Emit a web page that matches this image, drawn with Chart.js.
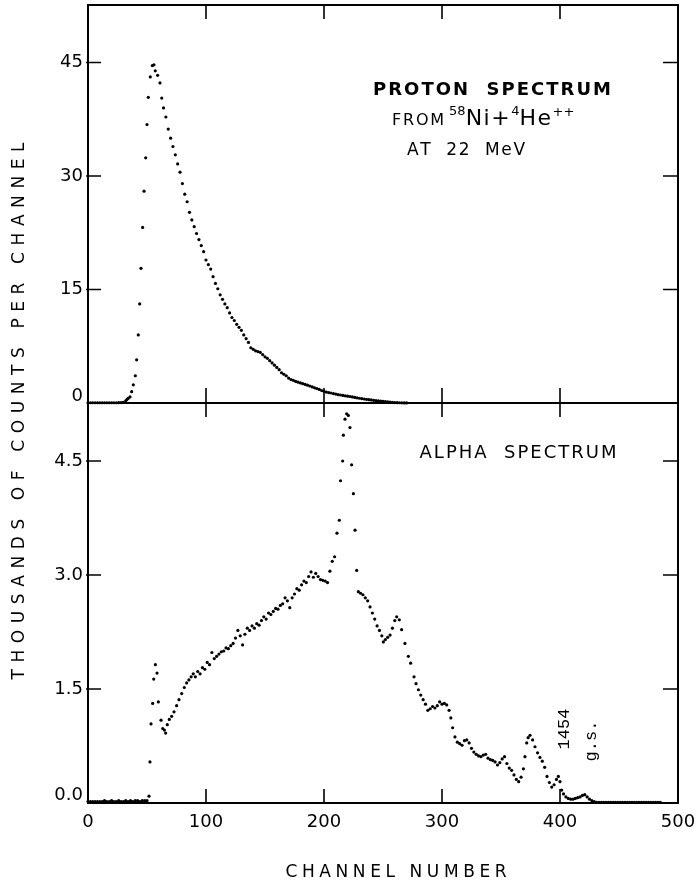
<!DOCTYPE html>
<html>
<head>
<meta charset="utf-8">
<script src="https://cdn.jsdelivr.net/npm/chart.js@4.4.1/dist/chart.umd.min.js"></script>
<style>
  html, body { margin: 0; padding: 0; background: #fff; }
  #contenedor { position: relative; width: 698px; height: 881px; }
</style>
</head>
<body>
<div id="contenedor"><canvas id="espectros"></canvas></div>
<script>
// Espectro de protones (miles de cuentas por canal)
const canalesProton = [
  0, 2, 4, 6, 8, 10, 12, 14, 16, 18, 20, 22, 24, 26, 28, 30, 32, 33, 34,
  35.6, 37, 38.4, 40.1, 41.2, 42.6, 43.8, 44.9, 46.3, 47.5, 48.9, 50, 51.1, 52.8, 54.5, 55.9,
  57, 59, 61, 62.5, 64, 66, 68, 70, 72, 74, 76, 78, 80, 82, 84, 86, 88, 90, 92, 94, 96, 98,
  100, 102, 104, 106, 108, 110, 112, 114, 116, 118, 120, 122, 124, 126, 128, 130, 132, 134,
  136, 138, 140, 142, 144, 146, 148, 150, 152, 154, 156, 158, 160, 162, 164, 166, 168, 170,
  172, 174, 176, 178, 180, 182, 184, 186, 188, 190, 192, 194, 196, 198, 200, 202, 204, 206,
  208, 210, 212, 214, 216, 218, 220, 222, 224, 226, 228, 230, 232, 234, 236, 238, 240, 242,
  244, 246, 248, 250, 252, 254, 256, 258, 260, 262, 264, 266, 268, 270
];
const cuentasProton = [
  0.03, 0.03, 0.03, 0.03, 0.03, 0.03, 0.03, 0.03, 0.03, 0.03, 0.03, 0.03, 0.03, 0.04, 0.05, 0.1, 0.3, 0.45, 0.6,
  0.8, 1.5, 2.4, 3.6, 5.7, 9.0, 13.1, 17.8, 23.2, 28.0, 32.4, 36.8, 40.4, 43.1, 44.6, 44.7,
  43.9, 43.3, 42.3, 40.3, 39.0, 37.8, 36.2, 35.0, 33.9, 32.8, 31.6, 30.5, 29.0, 27.6, 26.6, 25.2, 24.2, 23.3, 22.4, 21.6, 20.8, 20.0,
  18.9, 18.3, 17.7, 16.7, 15.8, 15.1, 14.3, 13.7, 13.1, 12.6, 11.9, 11.3, 10.9, 10.4, 10.0, 9.6, 9.0, 8.5,
  8.0, 7.3, 7.1, 6.9, 6.8, 6.7, 6.4, 6.1, 5.9, 5.6, 5.3, 5.0, 4.7, 4.4, 4.0, 3.8, 3.6, 3.3,
  3.1, 3.0, 2.85, 2.75, 2.65, 2.55, 2.45, 2.35, 2.25, 2.12, 2.0, 1.9, 1.8, 1.65, 1.55, 1.45, 1.38, 1.32,
  1.25, 1.18, 1.1, 1.06, 1.0, 0.95, 0.9, 0.86, 0.8, 0.74, 0.68, 0.63, 0.58, 0.53, 0.48, 0.44, 0.4, 0.36,
  0.31, 0.27, 0.24, 0.21, 0.18, 0.14, 0.11, 0.08, 0.06, 0.04, 0.03, 0.02, 0.01, 0.01
];

// Espectro de alfas (miles de cuentas por canal)
const canalesAlfa = [
  0, 2, 4, 6, 8, 10, 12, 14, 16, 18, 20, 22, 24, 26, 28, 30, 32, 34, 36, 38, 40, 42, 44, 46, 48, 50,
  51.7, 52.5, 53.4, 54.8, 55.7, 57.1, 58.5, 59.6, 61.9, 63.3, 64.7, 65.8, 67.2, 68.9, 70.9, 72.9,
  75.1, 77.1, 79.4, 81.6, 83.6, 85.5, 87.4, 89.2, 91, 93, 95, 97, 99, 101, 103, 105, 107, 109,
  111, 113, 115, 117, 119, 121, 123, 125, 127, 129, 131, 133, 135, 137, 139, 141, 143, 145, 147,
  149, 151, 153, 155, 157, 159, 161, 163, 165, 167, 169, 171, 173, 175, 177, 179, 181, 183, 185,
  187, 189, 191, 193, 195, 197, 199, 201, 203, 205, 207, 209, 211, 213, 214, 215.8, 216.4, 217.8,
  219.2, 220.6, 222, 223.4, 224.9, 226.3, 227.7, 229.1, 231, 233, 235, 237, 239, 241, 243, 245,
  247, 249, 250.3, 252, 254, 256, 258, 260, 261.6, 263.8, 265.8, 268.6, 271.5, 273.4, 276.3, 278,
  280, 282, 284, 286, 288, 290, 292, 294, 296, 298, 300, 302, 304, 306, 307.5, 309, 311, 313,
  315, 317, 319, 321, 323, 325, 327, 329, 331, 333, 335, 337, 339, 341, 343, 345, 347, 349, 351,
  353, 355, 357, 359, 361, 363, 365, 367, 369, 370.3, 371.8, 373, 374.6, 376.8, 378.8, 381, 383,
  385, 387, 389, 391, 393, 395, 397, 398.6, 400, 401.4, 403, 405, 407, 409, 411, 413, 415, 417,
  419, 421, 423, 425, 427, 429, 431, 433, 435, 437, 439, 441, 443, 445, 447, 449, 451, 453, 455,
  457, 459, 461, 463, 465, 467, 469, 471, 473, 475, 477, 479, 481, 483, 485
];
const cuentasAlfa = [
  0.02, 0.02, 0.02, 0.02, 0.02, 0.02, 0.02, 0.03, 0.02, 0.02, 0.03, 0.02, 0.02, 0.03, 0.02, 0.02, 0.03, 0.02, 0.03, 0.02, 0.03, 0.03, 0.02, 0.03, 0.03, 0.03,
  0.09, 0.54, 1.04, 1.31, 1.63, 1.82, 1.71, 1.33, 1.09, 0.98, 0.96, 0.92, 1.03, 1.10, 1.14, 1.20,
  1.28, 1.36, 1.44, 1.52, 1.58, 1.62, 1.66, 1.70, 1.66, 1.73, 1.70, 1.78, 1.76, 1.85, 1.82, 1.98, 1.90, 1.93,
  1.96, 1.99, 2.00, 2.04, 2.03, 2.07, 2.10, 2.17, 2.27, 2.20, 2.08, 2.22, 2.30, 2.27, 2.33, 2.30, 2.36, 2.34, 2.40,
  2.45, 2.42, 2.50, 2.48, 2.52, 2.56, 2.55, 2.60, 2.62, 2.70, 2.66, 2.57, 2.70, 2.75, 2.82, 2.80, 2.87, 2.92, 2.90,
  2.98, 3.04, 2.97, 3.02, 2.98, 2.94, 2.93, 2.92, 2.90, 3.05, 3.18, 3.24, 3.55, 3.72, 4.24, 4.50, 4.84, 5.05,
  5.12, 5.10, 4.94, 4.45, 4.07, 3.59, 3.06, 2.78, 2.76, 2.74, 2.70, 2.66, 2.58, 2.50, 2.42, 2.33,
  2.27, 2.20, 2.12, 2.15, 2.18, 2.21, 2.30, 2.40, 2.45, 2.41, 2.28, 2.10, 1.93, 1.84, 1.66, 1.57,
  1.49, 1.42, 1.36, 1.30, 1.22, 1.24, 1.27, 1.25, 1.28, 1.33, 1.30, 1.31, 1.29, 1.22, 1.12, 0.99, 0.87, 0.80,
  0.78, 0.76, 0.82, 0.83, 0.79, 0.72, 0.67, 0.64, 0.62, 0.61, 0.63, 0.64, 0.59, 0.57, 0.56, 0.54, 0.50, 0.53, 0.58,
  0.61, 0.52, 0.46, 0.43, 0.37, 0.31, 0.28, 0.34, 0.45, 0.61, 0.79, 0.86, 0.89, 0.83, 0.74, 0.66, 0.60,
  0.55, 0.47, 0.35, 0.27, 0.21, 0.24, 0.31, 0.35, 0.28, 0.17, 0.12, 0.08, 0.06, 0.05, 0.05, 0.06, 0.07, 0.08,
  0.10, 0.11, 0.08, 0.05, 0.03, 0.02, 0.01, 0.01, 0.01, 0.01, 0.01, 0.01, 0.01, 0.01, 0.01, 0.01, 0.01, 0.01, 0.01,
  0.01, 0.01, 0.01, 0.01, 0.01, 0.01, 0.01, 0.01, 0.01, 0.01, 0.01, 0.01, 0.01, 0.01, 0.01
];

// Marcas de los ejes
const ticksCanal = [0, 100, 200, 300, 400, 500];
const ticksProton = [0, 15, 30, 45];
const ticksAlfa = [0, 1.5, 3.0, 4.5];
const etiquetasProton = ["0", "15", "30", "45"];
const etiquetasAlfa = ["0.0", "1.5", "3.0", "4.5"];

const FUENTE = '"DejaVu Sans"';

function puntos(canales, cuentas) {
  return canales.map((c, i) => ({ x: c, y: cuentas[i] }));
}

// Escribe texto letra por letra con espaciado extra, centrado en x
function textoEspaciado(ctx, texto, x, y, espacio) {
  const letras = texto.split("");
  const anchos = letras.map(l => ctx.measureText(l).width);
  const total = anchos.reduce((a, b) => a + b, 0) + espacio * (letras.length - 1);
  let pos = x - total / 2;
  ctx.textAlign = "left";
  letras.forEach((l, i) => {
    ctx.fillText(l, pos, y);
    pos += anchos[i] + espacio;
  });
}

// Escribe una secuencia de trozos [texto, tamaño, subida, espacio] uno detrás de otro
function textoCompuesto(ctx, trozos, x, y) {
  let pos = x;
  ctx.textAlign = "left";
  trozos.forEach(([t, tam, subida, espacio]) => {
    ctx.font = tam + "px " + FUENTE;
    for (const l of t) {
      ctx.fillText(l, pos, y - subida);
      pos += ctx.measureText(l).width + (espacio || 0);
    }
  });
}

const marco = {
  id: "marco",
  afterDatasetsDraw(chart) {
    const { ctx, chartArea: area, scales } = chart;
    const x = scales.x, yP = scales.yP, yA = scales.yA;
    const division = yP.getPixelForValue(0);

    ctx.save();
    ctx.strokeStyle = "#000";
    ctx.fillStyle = "#000";
    ctx.lineWidth = 2;
    ctx.strokeRect(area.left, area.top, area.right - area.left, area.bottom - area.top);

    ctx.beginPath();
    ctx.moveTo(area.left, division);
    ctx.lineTo(area.right, division);
    ctx.stroke();

    // marcas del eje de canales: abajo, arriba y en la división
    ctx.lineWidth = 1.6;
    ticksCanal.slice(1, -1).forEach(v => {
      const px = x.getPixelForValue(v);
      ctx.beginPath();
      ctx.moveTo(px, area.bottom); ctx.lineTo(px, area.bottom - 14);
      ctx.moveTo(px, area.top); ctx.lineTo(px, area.top + 14);
      ctx.moveTo(px, division - 15); ctx.lineTo(px, division + 14);
      ctx.stroke();
    });

    // marcas verticales a ambos lados
    const marcasY = (escala, valores) => {
      valores.slice(1).forEach(v => {
        const py = escala.getPixelForValue(v);
        ctx.beginPath();
        ctx.moveTo(area.left - 2, py); ctx.lineTo(area.left + 13, py);
        ctx.moveTo(area.right, py); ctx.lineTo(area.right - 15, py);
        ctx.stroke();
      });
    };
    marcasY(yP, ticksProton);
    marcasY(yA, ticksAlfa);

    // etiquetas de los ejes
    ctx.font = "18px " + FUENTE;
    ctx.textAlign = "right";
    ctx.textBaseline = "middle";
    ticksProton.forEach((v, i) => {
      const py = yP.getPixelForValue(v) - (v === 0 ? 7 : 0);
      ctx.fillText(etiquetasProton[i], area.left - 5, py);
    });
    ticksAlfa.forEach((v, i) => {
      const py = yA.getPixelForValue(v) - (v === 0 ? 8 : 0);
      ctx.fillText(etiquetasAlfa[i], area.left - 5, py);
    });
    ctx.textAlign = "center";
    ticksCanal.forEach(v => {
      ctx.fillText(String(v), x.getPixelForValue(v), area.bottom + 19);
    });

    // títulos de los ejes
    ctx.textBaseline = "alphabetic";
    ctx.font = "17px " + FUENTE;
    textoEspaciado(ctx, "CHANNEL NUMBER", 396, 877, 4.6);
    ctx.save();
    ctx.translate(24, 411);
    ctx.rotate(-Math.PI / 2);
    textoEspaciado(ctx, "THOUSANDS OF COUNTS PER CHANNEL", 0, 0, 6.6);
    ctx.restore();

    // rótulos de cada panel
    ctx.font = "bold 18px " + FUENTE;
    textoEspaciado(ctx, "PROTON  SPECTRUM", 492, 95, 2);
    textoCompuesto(ctx, [
      ["FROM", 16, 0, 1.8],
      [" ", 10, 0],
      ["58", 13, 10],
      ["Ni+", 22, 0, 1.5],
      ["4", 13, 10],
      ["He", 22, 0, 1.5],
      ["++", 13, 9]
    ], 392, 125);
    ctx.font = "17px " + FUENTE;
    textoEspaciado(ctx, "AT  22  MeV", 466, 155, 1.6);
    ctx.font = "18px " + FUENTE;
    textoEspaciado(ctx, "ALPHA  SPECTRUM", 518, 458, 2);

    // niveles marcados sobre el espectro alfa
    ctx.font = '17px "Liberation Mono"';
    ctx.textAlign = "center";
    ctx.textBaseline = "middle";
    [["1454", 564, 729], ["g.s.", 591, 741]].forEach(([t, tx, ty]) => {
      ctx.save();
      ctx.translate(tx, ty);
      ctx.rotate(-Math.PI / 2);
      ctx.fillText(t, 0, 0);
      ctx.restore();
    });
    ctx.restore();
  }
};

const estiloPuntos = {
  showLine: false,
  pointRadius: 1.6,
  pointHoverRadius: 1.6,
  pointBackgroundColor: "#000",
  pointBorderWidth: 0,
  clip: 4
};

new Chart(document.getElementById("espectros"), {
  type: "scatter",
  data: {
    datasets: [
      { label: "Alpha", data: puntos(canalesAlfa, cuentasAlfa), yAxisID: "yA", ...estiloPuntos },
      { label: "Proton", data: puntos(canalesProton, cuentasProton), yAxisID: "yP", ...estiloPuntos }
    ]
  },
  options: {
    responsive: true,
    maintainAspectRatio: false,
    animation: false,
    layout: { padding: { left: 88, right: 20, top: 5, bottom: 78 } },
    plugins: { legend: { display: false }, tooltip: { enabled: false } },
    scales: {
      x: { type: "linear", min: 0, max: 500, display: false },
      yA: { type: "linear", position: "left", stack: "paneles", stackWeight: 400, min: 0, max: 5.263, display: false },
      yP: { type: "linear", position: "left", stack: "paneles", stackWeight: 398, min: 0, max: 52.6, display: false }
    }
  },
  plugins: [marco]
});
</script>
</body>
</html>
